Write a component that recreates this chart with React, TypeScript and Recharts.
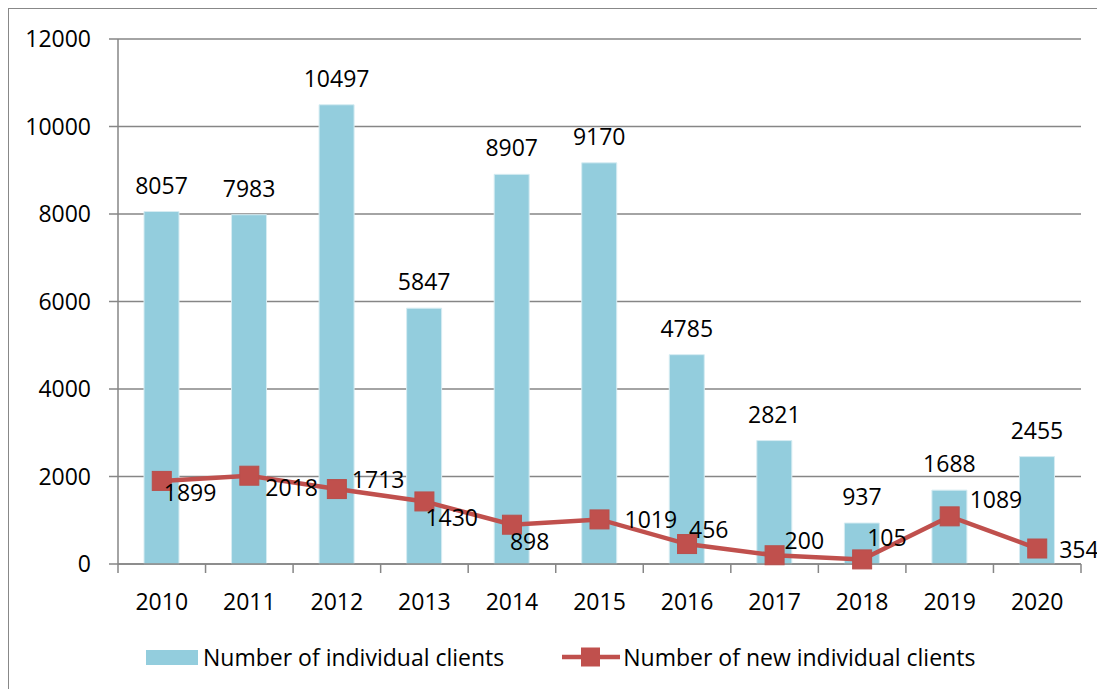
import React from 'react';
import { ComposedChart, Bar, Line, XAxis, YAxis, CartesianGrid, LabelList } from 'recharts';

const years = ['2010', '2011', '2012', '2013', '2014', '2015', '2016', '2017', '2018', '2019', '2020'];
const individualClients = [8057, 7983, 10497, 5847, 8907, 9170, 4785, 2821, 937, 1688, 2455];
const newIndividualClients = [1899, 2018, 1713, 1430, 898, 1019, 456, 200, 105, 1089, 354];
const yTicks = [0, 2000, 4000, 6000, 8000, 10000, 12000];

// label nudges for the line series, as placed in the original
const lineLabelShift: [number, number][] = [
  [2, 11], [16, 11], [15, -10], [1, 16], [-2, 16], [25, 0],
  [2, -15], [10, -15], [5, -22], [20, -17], [22, 0],
];

const FONT = '"Open Sans", sans-serif';
const BAR = '#93CDDD';
const RED = '#C0504D';
const GRID = '#868686';
const BAND = 963 / years.length;

const data = years.map((year, i) => ({
  year,
  total: individualClients[i],
  fresh: newIndividualClients[i],
}));

const XTick = ({ x, y, payload, index }: any) => (
  <g>
    <line x1={x - BAND / 2} x2={x - BAND / 2} y1={y} y2={y + 9} stroke={GRID} strokeWidth={1.5} />
    {index === years.length - 1 && (
      <line x1={x + BAND / 2} x2={x + BAND / 2} y1={y} y2={y + 9} stroke={GRID} strokeWidth={1.5} />
    )}
    <text x={x} y={y + 37} textAnchor="middle" dominantBaseline="central" fontSize={23} fontFamily={FONT} fill="#000">
      {payload.value}
    </text>
  </g>
);

const BarLabel = ({ x, y, width, value }: any) => (
  <text x={x + width / 2} y={y - 27} textAnchor="middle" dominantBaseline="central" fontSize={23} fontFamily={FONT} fill="#000">
    {value}
  </text>
);

const LineLabel = ({ x, y, value, index }: any) => {
  const [dx, dy] = lineLabelShift[index] || [0, 0];
  return (
    <text x={x + dx} y={y + dy} textAnchor="start" dominantBaseline="central" fontSize={23} fontFamily={FONT} fill="#000">
      {value}
    </text>
  );
};

const SquareDot = ({ cx, cy }: any) => (
  <rect x={cx - 9.5} y={cy - 9.5} width={19} height={19} fill={RED} stroke="#B8504C" strokeWidth={1} />
);

export default function App() {
  return (
    <div
      style={{
        position: 'relative',
        width: 1097,
        height: 681,
        boxSizing: 'border-box',
        borderLeft: '1px solid #888',
        borderTop: '1px solid #888',
        background: '#fff',
        fontFamily: FONT,
      }}
    >
      <ComposedChart
        width={1096}
        height={680}
        data={data}
        margin={{ top: 30, right: 24, left: 0, bottom: 0 }}
      >
        <CartesianGrid vertical={false} stroke={GRID} strokeWidth={1.5} />
        <XAxis
          dataKey="year"
          height={125}
          tickSize={0}
          tickMargin={0}
          tickLine={false}
          axisLine={{ stroke: GRID, strokeWidth: 1.5 }}
          tick={<XTick />}
          interval={0}
        />
        <YAxis
          width={109}
          domain={[0, 12000]}
          ticks={yTicks}
          tickSize={9}
          tickMargin={18}
          axisLine={{ stroke: GRID, strokeWidth: 1.5 }}
          tickLine={{ stroke: GRID, strokeWidth: 1.5 }}
          tick={{ fontSize: 23, fontFamily: FONT, fill: '#000' }}
        />
        <Bar dataKey="total" barSize={35} fill={BAR} stroke="#D6ECF2" strokeWidth={1} isAnimationActive={false}>
          <LabelList dataKey="total" content={<BarLabel />} />
        </Bar>
        <Line
          dataKey="fresh"
          stroke={RED}
          strokeWidth={4.5}
          dot={<SquareDot />}
          activeDot={false}
          isAnimationActive={false}
        >
          <LabelList dataKey="fresh" content={<LineLabel />} />
        </Line>
      </ComposedChart>
      <div
        style={{
          position: 'absolute',
          left: 137,
          top: 632,
          display: 'flex',
          alignItems: 'center',
          fontSize: 23,
          color: '#000',
          whiteSpace: 'nowrap',
        }}
      >
        <span style={{ display: 'inline-block', width: 52, height: 15, background: BAR, marginRight: 5 }} />
        <span>Number of individual clients</span>
        <svg width={58} height={22} style={{ marginLeft: 58, marginRight: 3 }}>
          <line x1={0} x2={58} y1={11} y2={11} stroke={RED} strokeWidth={4.5} />
          <rect x={19} y={1.5} width={19} height={19} fill={RED} />
        </svg>
        <span>Number of new individual clients</span>
      </div>
    </div>
  );
}
